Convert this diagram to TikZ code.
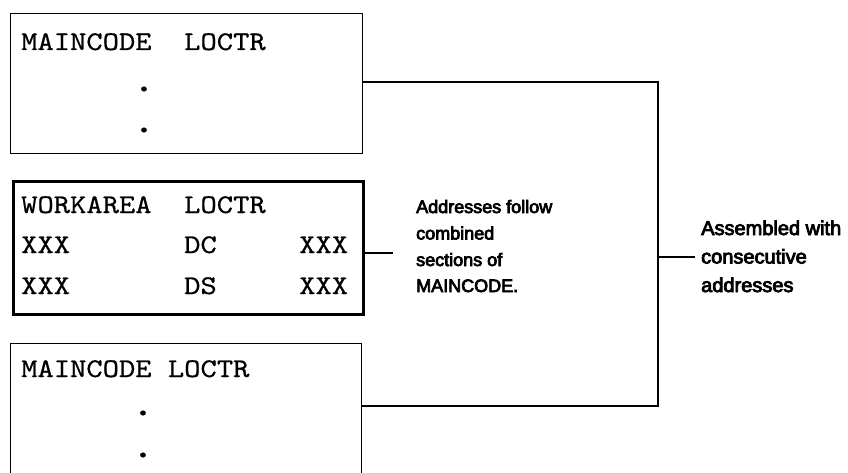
\documentclass[tikz,border=0pt]{standalone}
\usepackage{fontspec}
\newfontfamily\lblfont{Liberation Sans}[FakeBold=4]
\newfontfamily\codefont{lmmono10-regular}[Extension=.otf, FakeStretch=1.15, FakeBold=0.6]
\begin{document}
\begin{tikzpicture}[x=1pt,y=-1pt]
\tikzset{
  box/.style={draw, line width=1.3pt, inner sep=0pt, anchor=north west},
  thickbox/.style={box, line width=3.3pt},
  code/.style={font=\codefont\fontsize{27}{27}\selectfont, anchor=base west, inner sep=0pt},
  dotmark/.style={font=\codefont\fontsize{38}{38}\selectfont, inner sep=0pt},
  lbl/.style={font=\lblfont\fontsize{18}{26}\selectfont, anchor=base west, inner sep=0pt},
  lblr/.style={font=\lblfont\fontsize{20}{28}\selectfont, anchor=base west, inner sep=0pt},
  wire/.style={line width=1.6pt}
}
\useasboundingbox (0,0) rectangle (848,473);
\fill[white] (0,0) rectangle (848,473);

% boxes
\node[box, minimum width=352pt, minimum height=140pt] (b1) at (10,13) {};
\node[thickbox, minimum width=350pt, minimum height=133pt] (b2) at (12,180) {};
\node[box, minimum width=351pt, minimum height=150pt] (b3) at (10,343) {};

% box 1 text
\node[code] (t1a) at (21,50) {MAINCODE};
\node[code] (t1b) at (184,50) {LOCTR};
\node[dotmark] (d1a) at (144,89) {.};
\node[dotmark] (d1b) at (144,130) {.};

% box 2 text
\node[code] (t2a) at (21,213) {WORKAREA};
\node[code] (t2b) at (184,213) {LOCTR};
\node[code] (t2c) at (21,253) {XXX};
\node[code] (t2d) at (184,253) {DC};
\node[code] (t2e) at (299,253) {XXX};
\node[code] (t2f) at (21,294) {XXX};
\node[code] (t2g) at (184,294) {DS};
\node[code] (t2h) at (299,294) {XXX};

% box 3 text
\node[code] (t3a) at (21,377) {MAINCODE LOCTR};
\node[dotmark] (d3a) at (143,413) {.};
\node[dotmark] (d3b) at (143,455) {.};

% connectors
\coordinate (jt) at (658,82);
\coordinate (jb) at (658,406);
\coordinate (jm) at (658,257);
\coordinate (e2) at (393,253);
\coordinate (e4) at (695,257);
\draw[wire] (b1.east |- jt) -- (jt) -- (jb) -- (b3.east |- jb);
\draw[wire] (b2.east |- e2) -- (e2);
\draw[wire] (jm) -- (e4);

% labels
\node[lbl] (la) at (416,213) {Addresses follow};
\node[lbl] (lb) at (416,239.5) {combined};
\node[lbl] (lc) at (416,266) {sections of};
\node[lbl] (ld) at (416,292) {MAINCODE.};

\node[lblr] (ra) at (701,235) {Assembled with};
\node[lblr] (rb) at (701,263.5) {consecutive};
\node[lblr] (rc) at (701,292) {addresses};
\end{tikzpicture}
\end{document}
